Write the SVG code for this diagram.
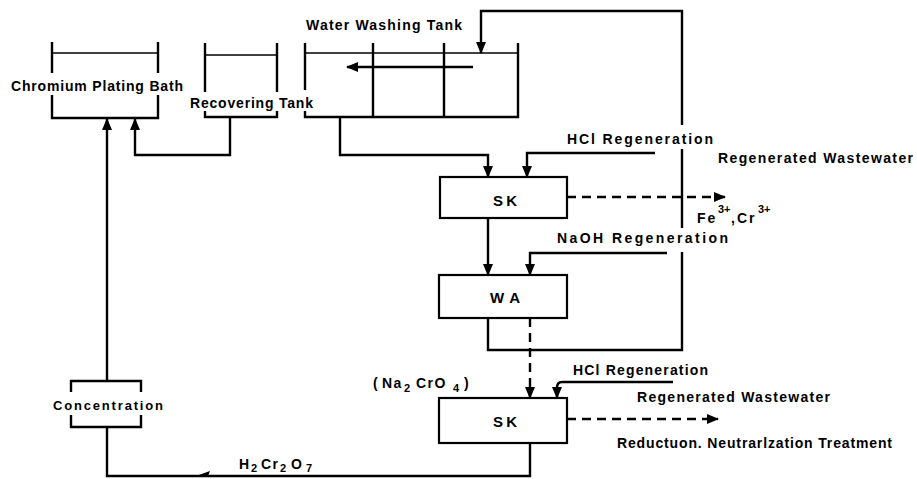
<svg xmlns="http://www.w3.org/2000/svg" width="917" height="479" viewBox="0 0 917 479">
<style>
.ln{fill:none;stroke:#000;stroke-width:2.4;stroke-linejoin:miter}
.thin{fill:none;stroke:#000;stroke-width:1.4}
.dash{fill:none;stroke:#000;stroke-width:2.4;stroke-dasharray:9 6}
.box{fill:#fff;stroke:#000;stroke-width:2.2}
.t{font-family:"Liberation Sans",Arial,sans-serif;font-weight:bold;font-size:14px;fill:#000}
.b{font-family:"Liberation Sans",Arial,sans-serif;font-weight:bold;font-size:15px;fill:#000}
.s{font-size:11px}
</style>
<defs>
<marker id="ah" markerUnits="userSpaceOnUse" markerWidth="12" markerHeight="10" refX="11" refY="5" orient="auto">
<path d="M0,0 L12,5 L0,10 z" fill="#000" stroke="none"/>
</marker>
</defs>
<rect width="917" height="479" fill="#fff"/>

<g id="chromium-bath">
<path class="ln" d="M52,42 V73 M52,95 V118 H158 V95 M158,42 V73"/>
<path class="thin" d="M52,53 H158"/>
<text class="t" x="11" y="91" textLength="172">Chromium Plating Bath</text>
</g>

<g id="recovering-tank">
<path class="ln" d="M205,43 V92 M277,43 V92 M205,111 V117 H277 V111"/>
<path class="thin" d="M205,55 H277"/>
<text class="t" x="190" y="108" textLength="123">Recovering Tank</text>
</g>

<g id="water-washing-tank">
<path class="ln" d="M305,43 V90 M305,111 V117 H518 V43 M373,43 V117 M444,43 V117"/>
<path class="thin" d="M305,53 H518"/>
<text class="t" x="306" y="30" textLength="156">Water Washing Tank</text>
<path class="ln" d="M473,67 H347" marker-end="url(#ah)"/>
</g>

<g id="sk1">
<rect class="box" x="440" y="177" width="127" height="41"/>
<text class="b" x="493" y="206" textLength="24">SK</text>
</g>

<g id="wa">
<rect class="box" x="439" y="275" width="128" height="43"/>
<text class="b" x="490" y="303" textLength="30">WA</text>
</g>

<g id="sk2">
<rect class="box" x="439" y="398" width="128" height="45"/>
<text class="b" x="493" y="427" textLength="24">SK</text>
</g>

<g id="concentration">
<path class="ln" d="M71,392 V381 H141 V392 M71,415 V427 H141 V415"/>
<text class="t" x="53" y="410" textLength="110" style="font-size:13px">Concentration</text>
</g>

<g id="labels">
<text class="t" x="567" y="144" textLength="146">HCl Regeneration</text>
<text class="t" x="718" y="163" textLength="195">Regenerated Wastewater</text>
<text class="t" y="223" letter-spacing="2"><tspan x="697">Fe</tspan><tspan class="s" x="718" dy="-10" letter-spacing="0">3+</tspan><tspan x="731" dy="10">,Cr</tspan><tspan class="s" x="758" dy="-10" letter-spacing="0">3+</tspan></text>
<text class="t" x="557" y="243" textLength="171">NaOH Regeneration</text>
<text class="t" x="573" y="375" textLength="135">HCl Regeneration</text>
<text class="t" x="637" y="402" textLength="193">Regenerated Wastewater</text>
<text class="t" x="617" y="448" textLength="275">Reductuon. Neutrarlzation Treatment</text>
<text class="t" y="388" letter-spacing="1.5"><tspan x="373">(</tspan><tspan x="382">Na</tspan><tspan class="s" x="404" dy="4">2</tspan><tspan x="416" dy="-4">CrO</tspan><tspan class="s" x="453" dy="4">4</tspan><tspan x="464" dy="-4">)</tspan></text>
<text class="t" y="469" letter-spacing="1.5"><tspan x="239">H</tspan><tspan class="s" x="251" dy="3">2</tspan><tspan x="261" dy="-3">Cr</tspan><tspan class="s" x="280" dy="3">2</tspan><tspan x="291" dy="-3">O</tspan><tspan class="s" x="306" dy="3">7</tspan></text>
</g>

<g id="connectors">
<path class="ln" d="M230,117 V155 H135 V119" marker-end="url(#ah)"/>
<path class="ln" d="M107,381 V119" marker-end="url(#ah)"/>
<path class="ln" d="M340,117 V155 H488 V177" marker-end="url(#ah)"/>
<path class="ln" d="M655,153 H527 V177" marker-end="url(#ah)"/>
<path class="dash" d="M567,197 H725" marker-end="url(#ah)"/>
<path class="ln" d="M488,218 V275" marker-end="url(#ah)"/>
<path class="ln" d="M667,253 H530 V275" marker-end="url(#ah)"/>
<path class="ln" d="M488,318 V350 H682 V252 M682,228 V149 M682,125 V11 H481 V53" marker-end="url(#ah)"/>
<path class="dash" d="M530,318 V398" marker-end="url(#ah)"/>
<path class="ln" d="M673,382 H562 Q557,382 557,388 V398" marker-end="url(#ah)"/>
<path class="dash" d="M567,419 H718" marker-end="url(#ah)"/>
<path class="ln" d="M530,443 V476 H107 V427"/>
<path d="M196,476 L210,471 L208,476 z" fill="#000"/>
</g>
</svg>
